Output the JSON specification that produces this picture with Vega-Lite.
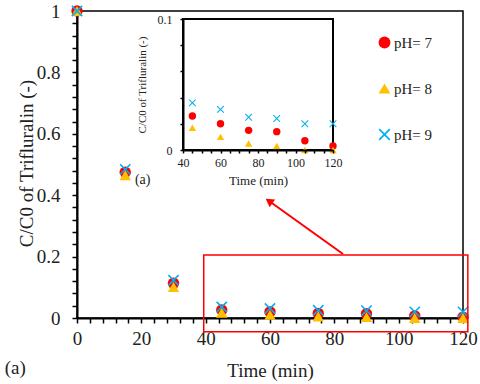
{
  "$schema": "https://vega.github.io/schema/vega-lite/v6.json",
  "width": 386,
  "height": 307,
  "autosize": {"type": "none"},
  "padding": {"left": 77, "top": 11, "right": 17, "bottom": 66},
  "background": "white",
  "config": {
    "view": {"stroke": "#000", "strokeWidth": 1.5},
    "axis": {
      "grid": false,
      "labelFont": "Liberation Serif",
      "titleFont": "Liberation Serif",
      "domainColor": "#000",
      "tickColor": "#000",
      "labelColor": "#222",
      "titleColor": "#222",
      "titleFontWeight": "normal",
      "labelOverlap": false,
      "labelFlush": false,
      "tickWidth": 1.5,
      "domainWidth": 2,
      "zindex": 1
    },
    "legend": {
      "orient": "none",
      "legendX": 300,
      "legendY": 24,
      "rowPadding": 30,
      "symbolSize": 140,
      "symbolStrokeWidth": 0,
      "labelFont": "Liberation Serif",
      "labelFontSize": 15,
      "labelColor": "#222",
      "labelOffset": 2
    }
  },
  "data": {
    "values": [
      {"t": 0, "c": 1, "pH": "pH= 7"},
      {"t": 15, "c": 0.475, "pH": "pH= 7"},
      {"t": 30, "c": 0.113, "pH": "pH= 7"},
      {"t": 45, "c": 0.026, "pH": "pH= 7"},
      {"t": 60, "c": 0.02, "pH": "pH= 7"},
      {"t": 75, "c": 0.015, "pH": "pH= 7"},
      {"t": 90, "c": 0.014, "pH": "pH= 7"},
      {"t": 105, "c": 0.007, "pH": "pH= 7"},
      {"t": 120, "c": 0.003, "pH": "pH= 7"},
      {"t": 0, "c": 1, "pH": "pH= 8"},
      {"t": 15, "c": 0.465, "pH": "pH= 8"},
      {"t": 30, "c": 0.101, "pH": "pH= 8"},
      {"t": 45, "c": 0.017, "pH": "pH= 8"},
      {"t": 60, "c": 0.01, "pH": "pH= 8"},
      {"t": 75, "c": 0.005, "pH": "pH= 8"},
      {"t": 90, "c": 0.003, "pH": "pH= 8"},
      {"t": 105, "c": 0.0, "pH": "pH= 8"},
      {"t": 120, "c": 0.0, "pH": "pH= 8"},
      {"t": 0, "c": 1, "pH": "pH= 9"},
      {"t": 15, "c": 0.484, "pH": "pH= 9"},
      {"t": 30, "c": 0.123, "pH": "pH= 9"},
      {"t": 45, "c": 0.036, "pH": "pH= 9"},
      {"t": 60, "c": 0.031, "pH": "pH= 9"},
      {"t": 75, "c": 0.025, "pH": "pH= 9"},
      {"t": 90, "c": 0.024, "pH": "pH= 9"},
      {"t": 105, "c": 0.02, "pH": "pH= 9"},
      {"t": 120, "c": 0.02, "pH": "pH= 9"}
    ]
  },
  "layer": [
    {
      "layer": [
        {
          "mark": {"type": "point", "filled": true, "size": 130, "opacity": 1, "strokeWidth": 0},
          "encoding": {
            "x": {
              "field": "t", "type": "quantitative",
              "scale": {"domain": [0, 120], "nice": false, "zero": false},
              "axis": {
                "title": "Time (min)",
                "values": [0,4,8,12,16,20,24,28,32,36,40,44,48,52,56,60,64,68,72,76,80,84,88,92,96,100,104,108,112,116,120],
                "tickCount": 1000,
                "labelExpr": "datum.value % 20 == 0 ? format(datum.value, '~g') : ''",
                "ticks": true, "tickSize": 5,
                "labelPadding": 6, "labelFontSize": 19, "titleFontSize": 19,
                "titleX": 193, "titleY": 52, "titleAlign": "center", "titleBaseline": "middle",
                "labelOverlap": false
              }
            },
            "y": {
              "field": "c", "type": "quantitative",
              "scale": {"domain": [0, 1], "nice": false, "zero": false},
              "axis": {
                "title": "C/C0 of Trifluralin  (-)",
                "values": [0,0.04,0.08,0.12,0.16,0.2,0.24,0.28,0.32,0.36,0.4,0.44,0.48,0.52,0.56,0.6,0.64,0.68,0.72,0.76,0.8,0.84,0.88,0.92,0.96,1],
                "tickCount": 1000,
                "labelExpr": "abs(datum.value*5 - round(datum.value*5)) < 0.001 ? format(datum.value, '~g') : ''",
                "ticks": true, "tickSize": 5,
                "labelPadding": 12, "labelFontSize": 19, "titleFontSize": 19,
                "titleX": -51, "titleY": 152, "titleAngle": 270, "titleAlign": "center", "titleBaseline": "middle",
                "labelOverlap": false
              }
            },
            "color": {
              "field": "pH", "type": "nominal", "title": null,
              "scale": {"domain": ["pH= 7", "pH= 8", "pH= 9"], "range": ["#FF0000", "#FFC000", "#00B0F0"]}
            },
            "shape": {
              "field": "pH", "type": "nominal", "title": null,
              "scale": {"domain": ["pH= 7", "pH= 8", "pH= 9"], "range": ["circle", "triangle-up", "M-1,-0.8L-0.2,0L-1,0.8L-0.8,1L0,0.2L0.8,1L1,0.8L0.2,0L1,-0.8L0.8,-1L0,-0.2L-0.8,-1Z"]}
            }
          }
        },
        {
          "data": {"values": [{"x1": 39.4, "x2": 121.5, "y1": -0.045, "y2": 0.205}]},
          "mark": {"type": "rect", "fill": null, "fillOpacity": 0, "stroke": "#FF0000", "strokeWidth": 1.5},
          "encoding": {
            "x": {"field": "x1", "type": "quantitative"},
            "x2": {"field": "x2"},
            "y": {"field": "y1", "type": "quantitative"},
            "y2": {"field": "y2"}
          }
        },
        {
          "data": {"values": [{"x1": 82.7, "y1": 0.2085, "x2": 59.7, "y2": 0.381}]},
          "mark": {"type": "rule", "color": "#FF0000", "strokeWidth": 2},
          "encoding": {
            "x": {"field": "x1", "type": "quantitative"},
            "x2": {"field": "x2"},
            "y": {"field": "y1", "type": "quantitative"},
            "y2": {"field": "y2"}
          }
        },
        {
          "data": {"values": [{"x": 59.7, "y": 0.381}]},
          "mark": {"type": "point", "shape": "triangle-up", "filled": true, "size": 90, "color": "#FF0000", "angle": 305.7, "opacity": 1},
          "encoding": {
            "x": {"field": "x", "type": "quantitative"},
            "y": {"field": "y", "type": "quantitative"}
          }
        },
        {
          "data": {"values": [{"x": 18, "y": 0.45, "label": "(a)", "size": "small"}, {"x": -22.5, "y": -0.163, "label": "(a)", "size": "big"}]},
          "mark": {"type": "text", "font": "Liberation Serif", "align": "left", "baseline": "middle", "color": "#222"},
          "encoding": {
            "x": {"field": "x", "type": "quantitative"},
            "y": {"field": "y", "type": "quantitative"},
            "text": {"field": "label"},
            "size": {"field": "size", "type": "nominal", "scale": {"domain": ["small", "big"], "range": [14, 19]}, "legend": null}
          }
        }
      ]
    },
    {
      "transform": [{"filter": "datum.t >= 45"}],
      "layer": [
        {
          "data": {"values": [{"x1": 40, "x2": 120, "y1": 0, "y2": 0.1}]},
          "mark": {"type": "rect", "fill": "white", "fillOpacity": 0, "stroke": "#000", "strokeWidth": 2},
          "encoding": {
            "x": {"field": "x1", "type": "quantitative"},
            "x2": {"field": "x2"},
            "y": {"field": "y1", "type": "quantitative"},
            "y2": {"field": "y2"}
          }
        },
        {
          "mark": {"type": "point", "filled": true, "size": 55, "opacity": 1, "strokeWidth": 0},
          "encoding": {
            "x": {
              "field": "t", "type": "quantitative",
              "scale": {"domain": [40, 120], "range": [106, 256], "nice": false, "zero": false},
              "axis": {
                "orient": "bottom", "offset": -168,
                "title": "Time (min)",
                "values": [40,45,50,55,60,65,70,75,80,85,90,95,100,105,110,115,120],
                "tickCount": 1000,
                "labelExpr": "datum.value % 20 == 0 ? format(datum.value, '~g') : ''",
                "ticks": true, "tickSize": 3,
                "labelPadding": 4, "labelFontSize": 12, "titleFontSize": 13,
                "titlePadding": 6, "zindex": 1
              }
            },
            "y": {
              "field": "c", "type": "quantitative",
              "scale": {"domain": [0, 0.1], "range": [139, 8], "nice": false, "zero": false},
              "axis": {
                "orient": "left", "offset": -106,
                "title": "C/C0 of Trifluralin (-)",
                "values": [0, 0.02, 0.04, 0.06, 0.08, 0.1],
                "tickCount": 1000,
                "labelExpr": "datum.value == 0 || datum.value > 0.09 ? format(datum.value, '~g') : ''",
                "ticks": true, "tickSize": 3,
                "labelPadding": 8, "labelFontSize": 12, "titleFontSize": 11,
                "titlePadding": 10, "zindex": 1
              }
            },
            "color": {"field": "pH", "type": "nominal", "title": null},
            "shape": {"field": "pH", "type": "nominal", "title": null}
          }
        }
      ]
    }
  ],
  "resolve": {
    "scale": {"x": "independent", "y": "independent"},
    "axis": {"x": "independent", "y": "independent"}
  }
}
